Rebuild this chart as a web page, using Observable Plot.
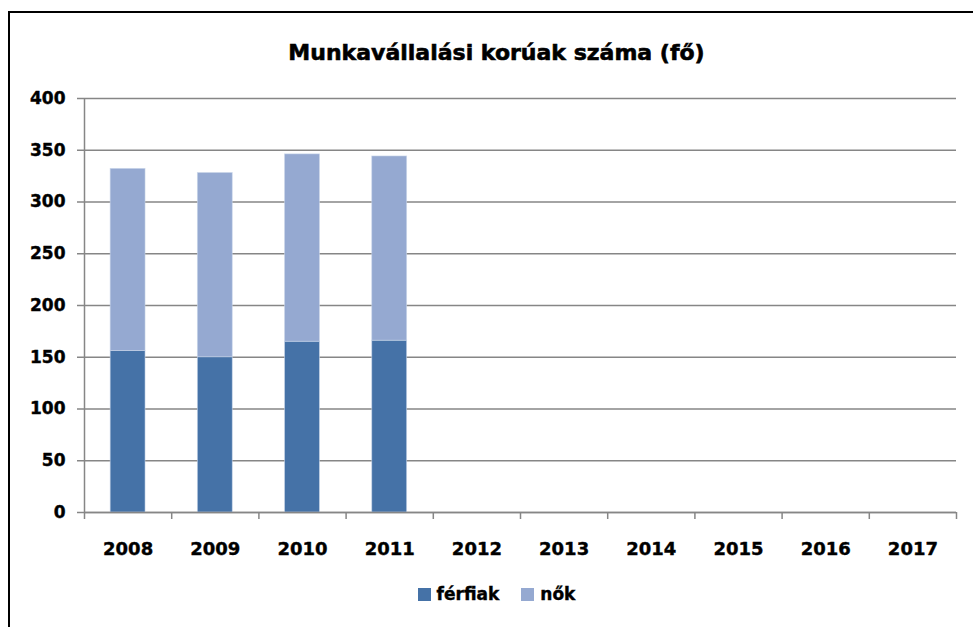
<!DOCTYPE html>
<html>
<head>
<meta charset="utf-8">
<script src="https://cdn.jsdelivr.net/npm/d3@7"></script>
<script src="https://cdn.jsdelivr.net/npm/@observablehq/plot@0.6"></script>
<style>
  html, body { margin: 0; padding: 0; background: #fff; overflow: hidden; }
  #frame { position: absolute; left: 8px; top: 11px; width: 1000px; height: 700px;
           border-left: 2px solid #000; border-top: 2px solid #000; }
  #title { position: absolute; left: 0; width: 993px; top: 40px; text-align: center;
           font: bold 22px "DejaVu Sans", sans-serif; color: #000; letter-spacing: 0px;
           -webkit-text-stroke: 0.6px #000; }
  #chart { position: absolute; left: 0; top: 0; }
  #legend { position: absolute; top: 584px; left: 0; width: 993px; text-align: center;
            font: bold 17px "DejaVu Sans", sans-serif; color: #000; -webkit-text-stroke: 0.4px #000; }
  #legend span.item { display: inline-flex; align-items: center; margin: 0 11px; }
  #legend span.sw { display: inline-block; width: 13px; height: 13px; margin-right: 6px; }
</style>
</head>
<body>
<div id="frame"></div>
<div id="chart"></div>
<div id="title">Munkavállalási korúak száma (fő)</div>
<div id="legend"></div>
<script>
const years = [2008, 2009, 2010, 2011, 2012, 2013, 2014, 2015, 2016, 2017];
const ferfiak = [156, 150, 165, 166, null, null, null, null, null, null];
const nok     = [176, 178, 181, 178, null, null, null, null, null, null];
const seriesNames = ["férfiak", "nők"];
const seriesColors = ["#4572A7", "#95A9D1"];
const yTicks = [0, 50, 100, 150, 200, 250, 300, 350, 400];

const rows = [];
years.forEach((yr, i) => {
  if (ferfiak[i] != null) rows.push({year: yr, s: seriesNames[0], y1: 0, y2: ferfiak[i]});
  if (nok[i] != null) rows.push({year: yr, s: seriesNames[1], y1: ferfiak[i], y2: ferfiak[i] + nok[i]});
});
const boundaries = years.map(y => y - 0.5).concat([years[years.length - 1] + 0.5]);

const plot = Plot.plot({
  width: 973,
  height: 627,
  marginLeft: 84,
  marginRight: 17,
  marginTop: 98,
  marginBottom: 115,
  style: {fontFamily: "DejaVu Sans, sans-serif", fontWeight: "bold", fontSize: "17px", color: "#000", background: "transparent"},
  x: {domain: [boundaries[0], boundaries[boundaries.length - 1]]},
  y: {domain: [0, 400]},
  color: {domain: seriesNames, range: seriesColors},
  marks: [
    Plot.gridY(yTicks, {stroke: "#868686", strokeOpacity: 1, strokeWidth: 1.5}),
    Plot.rectY(rows, {x1: d => d.year - 0.2, x2: d => d.year + 0.2, y1: "y1", y2: "y2", fill: "s",
                      stroke: "#c9d5ea", strokeWidth: 0.8, strokeOpacity: 0.7}),
    Plot.ruleY([0], {stroke: "#868686", strokeWidth: 1.5}),
    Plot.ruleX([boundaries[0]], {stroke: "#868686", strokeWidth: 1.5}),
    Plot.axisY({ticks: yTicks, tickSize: 7, tickPadding: 12, stroke: "#868686", strokeWidth: 1.5, label: null,
                fontSize: 17, textStroke: "#000", textStrokeWidth: 0.4}),
    Plot.axisX({ticks: boundaries, tickSize: 7, tickFormat: () => "", stroke: "#868686", strokeWidth: 1.5, label: null}),
    Plot.axisX({ticks: years, tickSize: 0, tickPadding: 30, tickFormat: d => String(d), label: null,
                fontSize: 18, textStroke: "#000", textStrokeWidth: 0.4})
  ]
});
document.getElementById("chart").appendChild(plot);

const legend = document.getElementById("legend");
seriesNames.forEach((n, i) => {
  const item = document.createElement("span");
  item.className = "item";
  const sw = document.createElement("span");
  sw.className = "sw";
  sw.style.background = seriesColors[i];
  item.appendChild(sw);
  item.appendChild(document.createTextNode(n));
  legend.appendChild(item);
});
</script>
</body>
</html>
